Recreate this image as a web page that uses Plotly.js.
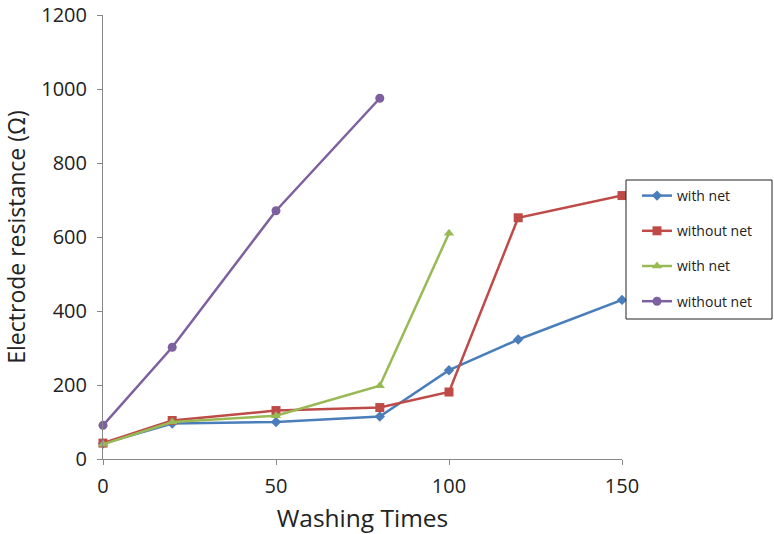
<!DOCTYPE html>
<html>
<head>
<meta charset="utf-8">
<script src="https://cdn.plot.ly/plotly-3.0.1.min.js"></script>
<style>html,body{margin:0;padding:0;background:#fff;}#chart{width:774px;height:534px;}</style>
</head>
<body>
<div id="chart"></div>
<script>
const seriesNames = ["with net", "without net", "with net", "without net"];
const xBlue = [0, 20, 50, 80, 100, 120, 150];
const yBlue = [42, 96, 100, 115, 240, 323, 430];
const xRed = [0, 20, 50, 80, 100, 120, 150];
const yRed = [43, 104, 131, 139, 181, 652, 712];
const xGreen = [0, 20, 50, 80, 100];
const yGreen = [40, 100, 117, 198, 610];
const xPurple = [0, 20, 50, 80];
const yPurple = [91, 302, 671, 975];
const xTicks = [0, 50, 100, 150];
const yTicks = [0, 200, 400, 600, 800, 1000, 1200];

const colors = ["#4A7EBB", "#BE4B48", "#98B954", "#7D60A0"];
const symbols = ["diamond", "square", "triangle-up", "circle"];
const sizes = [8, 9, 9, 9];
const xs = [xBlue, xRed, xGreen, xPurple];
const ys = [yBlue, yRed, yGreen, yPurple];

const traces = xs.map((x, i) => ({
  x: x, y: ys[i], name: seriesNames[i], type: "scatter", mode: "lines+markers",
  legendgroup: "g" + i, cliponaxis: false,
  line: {color: colors[i], width: 2.5},
  marker: {color: colors[i], symbol: symbols[i], size: sizes[i]}
}));

const T = 15, B = 75, L = 103, R = 152, W = 774, H = 534;
const pw = W - L - R, ph = H - T - B;
const font = "'Open Sans', sans-serif";
const layout = {
  width: W, height: H,
  margin: {l: L, r: R, t: T, b: B},
  paper_bgcolor: "#fff", plot_bgcolor: "#fff",
  font: {family: font, color: "#222"},
  showlegend: true,
  shapes: [{
    type: "rect", xref: "paper", yref: "paper", layer: "above",
    x0: (626 - L) / pw, x1: (772 - L) / pw,
    y0: (H - B - 319) / ph, y1: (H - B - 180) / ph,
    line: {color: "#222", width: 1}, fillcolor: "#fff"
  }],
  legend: {
    x: (637 - L) / pw, y: (H - B - 180) / ph, yanchor: "top", xanchor: "left",
    borderwidth: 0, bgcolor: "rgba(0,0,0,0)",
    font: {size: 14, family: font, color: "#222"},
    traceorder: "grouped", tracegroupgap: 14, itemwidth: 30
  },
  xaxis: {
    range: [0, 150], tickvals: xTicks, ticktext: xTicks.map(String),
    showgrid: false, zeroline: false, showline: true, linecolor: "#888", linewidth: 1,
    ticks: "outside", ticklen: 5, tickcolor: "#888", ticklabelstandoff: 4,
    ticklabeloverflow: "allow",
    tickfont: {size: 20, color: "#222"},
    title: {text: "Washing Times", font: {size: 24.5, color: "#222"}, standoff: 12}
  },
  yaxis: {
    range: [0, 1200], tickvals: yTicks, ticktext: yTicks.map(String),
    showgrid: false, zeroline: false, showline: true, linecolor: "#888", linewidth: 1,
    ticks: "outside", ticklen: 5, tickcolor: "#888", ticklabelstandoff: 6,
    ticklabeloverflow: "allow",
    tickfont: {size: 20, color: "#222"},
    title: {text: "Electrode resistance (Ω)", font: {size: 23, color: "#222"}, standoff: 14}
  }
};
Plotly.newPlot("chart", traces, layout, {displayModeBar: false, staticPlot: true});
</script>
</body>
</html>
